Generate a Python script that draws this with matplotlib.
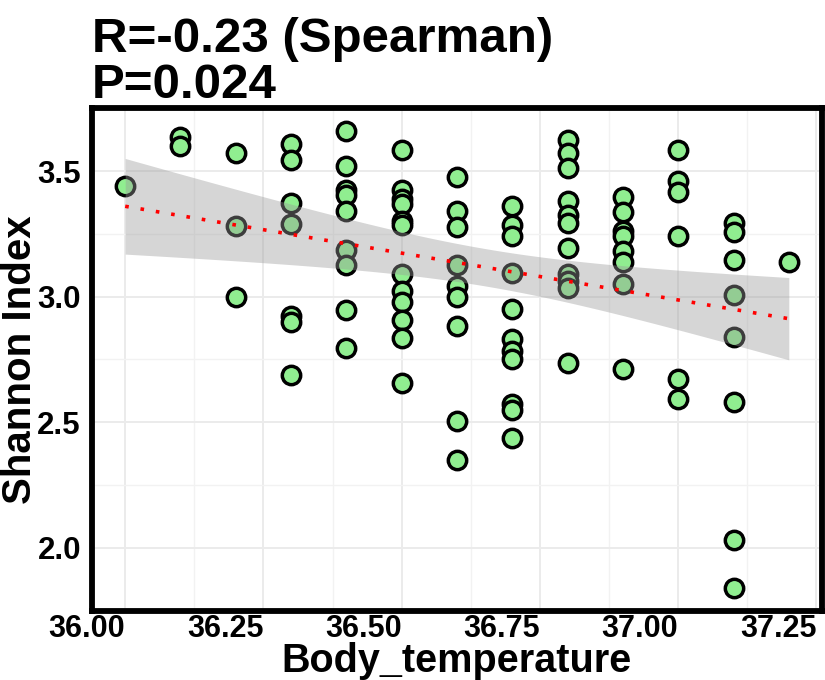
import numpy as np
import matplotlib
matplotlib.use("Agg")
import matplotlib.pyplot as plt
from matplotlib.ticker import MultipleLocator

# ---- data ----
body_temperature = (
    [36.0] * 1 + [36.1] * 2 + [36.2] * 3 + [36.3] * 7 + [36.4] * 9 +
    [36.5] * 12 + [36.6] * 9 + [36.7] * 11 + [36.8] * 11 + [36.9] * 8 +
    [37.0] * 6 + [37.1] * 8 + [37.2] * 1
)
shannon_index = [
    3.440,
    3.636, 3.599,
    3.570, 3.280, 2.999,
    3.606, 3.544, 3.372, 3.289, 2.923, 2.897, 2.689,
    3.660, 3.520, 3.425, 3.405, 3.339, 3.187, 3.124, 2.946, 2.797,
    3.583, 3.425, 3.390, 3.370, 3.300, 3.285, 3.088, 3.022, 2.979, 2.908, 2.834, 2.657,
    3.478, 3.339, 3.277, 3.124, 3.042, 2.999, 2.881, 2.505, 2.350,
    3.359, 3.286, 3.240, 3.095, 2.950, 2.831, 2.785, 2.752, 2.574, 2.547, 2.435,
    3.623, 3.570, 3.511, 3.379, 3.326, 3.293, 3.194, 3.088, 3.062, 3.036, 2.736,
    3.396, 3.335, 3.262, 3.240, 3.181, 3.137, 3.049, 2.712,
    3.583, 3.460, 3.418, 3.240, 2.673, 2.594,
    3.293, 3.256, 3.145, 3.007, 2.841, 2.580, 2.030, 1.839,
    3.137,
]
title_lines = ["R=-0.23 (Spearman)", "P=0.024"]
x_label = "Body_temperature"
y_label = "Shannon Index"
x_ticks = [36.00, 36.25, 36.50, 36.75, 37.00, 37.25]
y_ticks = [2.0, 2.5, 3.0, 3.5]

x = np.array(body_temperature)
y = np.array(shannon_index)

plt.rcParams["font.family"] = ["Liberation Sans", "DejaVu Sans"]

fig = plt.figure(figsize=(8.25, 6.8), dpi=100)
ax = fig.add_axes([92 / 825, 1 - 611 / 680, (822 - 92) / 825, (611 - 108) / 680])

# grid
ax.xaxis.set_major_locator(MultipleLocator(0.25))
ax.xaxis.set_minor_locator(MultipleLocator(0.125))
ax.yaxis.set_major_locator(MultipleLocator(0.5))
ax.yaxis.set_minor_locator(MultipleLocator(0.25))
ax.grid(which="major", color="#EBEBEB", lw=1.4, zorder=0)
ax.grid(which="minor", color="#F2F2F2", lw=1.0, zorder=0)
ax.set_axisbelow(True)

# points
ax.scatter(x, y, s=175, facecolor="#90EE90", edgecolor="black", linewidths=2.5, zorder=2)

# linear fit with 95% CI
n = len(x)
b1, b0 = np.polyfit(x, y, 1)
resid = y - (b0 + b1 * x)
s = np.sqrt(np.sum(resid ** 2) / (n - 2))
sxx = np.sum((x - x.mean()) ** 2)
xg = np.linspace(x.min(), x.max(), 80)
yg = b0 + b1 * xg
se = s * np.sqrt(1.0 / n + (xg - x.mean()) ** 2 / sxx)
tq = 1.988
ax.fill_between(xg, yg - tq * se, yg + tq * se, color="#999999", alpha=0.4, lw=0, zorder=3)
ax.plot(xg, yg, color="red", lw=2.6, linestyle=(0, (1, 3.3)), dash_capstyle="butt", zorder=4)

# limits (ggplot-like 5% expansion)
xr = x.max() - x.min()
yr = y.max() - y.min()
ax.set_xlim(x.min() - 0.05 * xr, x.max() + 0.05 * xr)
ax.set_ylim(y.min() - 0.05 * yr, y.max() + 0.05 * yr)

ax.set_xticks(x_ticks)
ax.set_xticklabels([f"{v:.2f}" for v in x_ticks], ha="right")
ax.set_yticks(y_ticks)
ax.set_yticklabels([f"{v:.1f}" for v in y_ticks])
ax.tick_params(which="both", length=0)
ax.tick_params(axis="x", pad=2)
ax.tick_params(axis="y", pad=8)
for lab in ax.get_xticklabels():
    lab.set_fontweight("bold")
    lab.set_fontsize(22)
for lab in ax.get_yticklabels():
    lab.set_fontweight("bold")
    lab.set_fontsize(22.5)

for sp in ax.spines.values():
    sp.set_linewidth(4.2)
    sp.set_color("black")

ax.set_xlabel(x_label, fontweight="bold", fontsize=28.5, labelpad=-1.2)
ax.set_ylabel(y_label, fontweight="bold", fontsize=29, labelpad=-1)

ax.set_title("\n".join(title_lines), loc="left", fontweight="bold",
             fontsize=35.5, linespacing=1.02, pad=5, x=0.0)

fig.savefig("out.png", dpi=100)
